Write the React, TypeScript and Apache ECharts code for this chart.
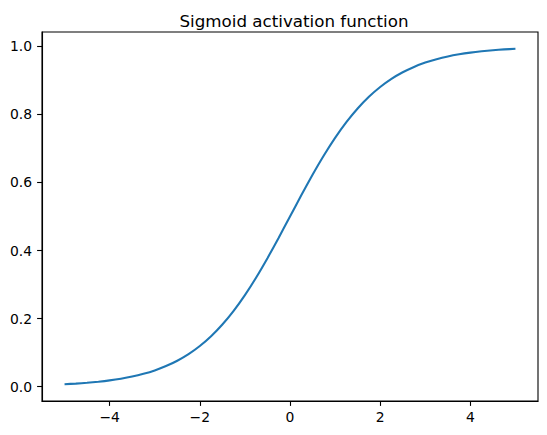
import React, { useEffect, useRef } from "react";
import * as echarts from "echarts";

const xValues = [
  -5, -4.75, -4.5, -4.25, -4, -3.75, -3.5, -3.25, -3, -2.75, -2.5, -2.25, -2, -1.75, -1.5, -1.25, -1, -0.75, -0.5, -0.25,
  0, 0.25, 0.5, 0.75, 1, 1.25, 1.5, 1.75, 2, 2.25, 2.5, 2.75, 3, 3.25, 3.5, 3.75, 4, 4.25, 4.5, 4.75, 5,
];
const yValues = [
  0.0067, 0.0086, 0.011, 0.0141, 0.018, 0.023, 0.0293, 0.0374, 0.0474, 0.0601, 0.0759, 0.0953, 0.1192, 0.148, 0.1824,
  0.2227, 0.2689, 0.3208, 0.3775, 0.4378, 0.5, 0.5622, 0.6225, 0.6792, 0.7311, 0.7773, 0.8176, 0.852, 0.8808, 0.9047,
  0.9241, 0.9399, 0.9526, 0.9626, 0.9707, 0.977, 0.982, 0.9859, 0.989, 0.9914, 0.9933,
];
const xTicks = [-4, -2, 0, 2, 4];
const yTicks = [0, 0.2, 0.4, 0.6, 0.8, 1.0];
const titleText = "Sigmoid activation function";

const FONT = "DejaVu Sans";

export default function App() {
  const ref = useRef<HTMLDivElement>(null);
  useEffect(() => {
    if (!ref.current) return;
    const chart = echarts.init(ref.current, null, { renderer: "svg" });
    const axisCommon = {
      axisLine: { show: true, onZero: false, lineStyle: { color: "#000", width: 1.1 } },
      axisTick: { show: true, inside: false, length: 4.9, lineStyle: { color: "#000", width: 1.1 } },
      splitLine: { show: false },
    };
    chart.setOption({
      animation: false,
      title: {
        text: titleText,
        left: 289,
        top: 7,
        textAlign: "center",
        textStyle: { fontFamily: FONT, fontSize: 16.7, fontWeight: "normal", color: "#000" },
      },
      grid: {
        left: 42,
        right: 9,
        top: 32,
        bottom: 34,
        show: true,
        borderColor: "#000",
        borderWidth: 1.1,
        backgroundColor: "transparent",
      },
      xAxis: {
        type: "value",
        min: -5.5,
        max: 5.5,
        ...axisCommon,
        axisTick: { ...axisCommon.axisTick, customValues: xTicks },
        axisLabel: {
          customValues: xTicks,
          margin: 9,
          fontFamily: FONT,
          fontSize: 13.9,
          color: "#000",
          formatter: (v: number) => String(v).replace("-", "\u2212"),
        },
      },
      yAxis: {
        type: "value",
        min: -0.0426,
        max: 1.0426,
        ...axisCommon,
        axisTick: { ...axisCommon.axisTick, customValues: yTicks },
        axisLabel: {
          customValues: yTicks,
          margin: 10,
          fontFamily: FONT,
          fontSize: 13.9,
          color: "#000",
          formatter: (v: number) => v.toFixed(1),
        },
      },
      series: [
        {
          type: "line",
          data: xValues.map((x, i) => [x, yValues[i]]),
          showSymbol: false,
          smooth: 0.2,
          lineStyle: { color: "#1f77b4", width: 2.08 },
        },
      ],
    });
    return () => chart.dispose();
  }, []);
  return <div ref={ref} style={{ width: 547, height: 435, position: "absolute", left: 0, top: 0 }} />;
}
